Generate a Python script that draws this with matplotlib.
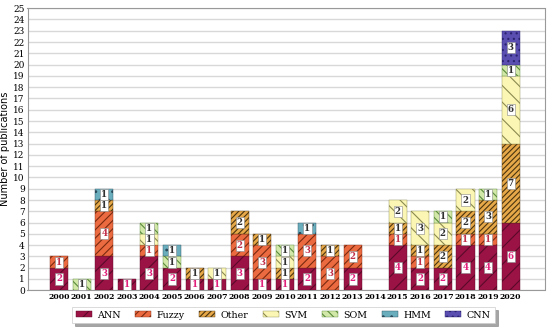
import numpy as np
import matplotlib
matplotlib.use('Agg')
import matplotlib.pyplot as plt

years = list(range(2000, 2021))
ann = [2, 0, 3, 1, 3, 2, 1, 1, 3, 1, 1, 2, 0, 2, 0, 4, 2, 2, 4, 4, 6]
fuzzy = [1, 0, 4, 0, 1, 0, 0, 0, 2, 3, 0, 3, 3, 2, 0, 1, 1, 0, 1, 1, 0]
other = [0, 0, 1, 0, 0, 0, 1, 0, 2, 1, 1, 0, 1, 0, 0, 1, 1, 2, 2, 3, 7]
svm = [0, 0, 0, 0, 1, 0, 0, 1, 0, 0, 1, 0, 0, 0, 0, 2, 3, 2, 2, 0, 6]
som = [0, 1, 0, 0, 1, 1, 0, 0, 0, 0, 1, 0, 0, 0, 0, 0, 0, 1, 0, 1, 1]
hmm = [0, 0, 1, 0, 0, 1, 0, 0, 0, 0, 0, 1, 0, 0, 0, 0, 0, 0, 0, 0, 0]
cnn = [0, 0, 0, 0, 0, 0, 0, 0, 0, 0, 0, 0, 0, 0, 0, 0, 0, 0, 0, 0, 3]

series = [
    ('ANN', ann, '#9b1245', '//', '#5a0a28', '#e0207a'),
    ('Fuzzy', fuzzy, '#ec6a40', '////', '#7a2a10', '#c0304a'),
    ('Other', other, '#e6a848', '//////', '#4a3410', '#303030'),
    ('SVM', svm, '#fbf6b4', '\\\\', '#8a8a50', '#303030'),
    ('SOM', som, '#d2e8a8', '\\\\\\\\', '#5a8a3a', '#303030'),
    ('HMM', hmm, '#6aaebe', '..', '#2a4a5a', '#303030'),
    ('CNN', cnn, '#5a4eb0', '...', '#2a2470', '#303030'),
]

plt.rcParams['hatch.linewidth'] = 0.8
fig, ax = plt.subplots(figsize=(5.5, 3.28), dpi=100)
fig.subplots_adjust(left=0.05, right=0.99, top=0.975, bottom=0.115)

x = np.array(years)
bottom = np.zeros(len(years))
handles = []
for name, vals, color, hatch, hcol, tcol in series:
    vals = np.array(vals)
    bars = ax.bar(x, vals, width=0.8, bottom=bottom, color=color, hatch=hatch,
                  edgecolor=hcol, linewidth=0.3, label=name, zorder=3)
    for b, v in zip(bars, vals):
        b._hatch_color = matplotlib.colors.to_rgba(hcol)
        if v == 0:
            b.set_linewidth(0)
    for xi, v, b0 in zip(x, vals, bottom):
        if v > 0:
            ax.text(xi, b0 + v / 2, str(v), ha='center', va='center',
                    fontsize=6.3, fontweight='bold', color=tcol, family='DejaVu Serif',
                    zorder=5, bbox=dict(boxstyle='square,pad=0.12', fc='white',
                                        ec='#888888', lw=0.4))
    handles.append(plt.Rectangle((0, 0), 1, 1, facecolor=color, hatch=hatch,
                                 edgecolor=hcol, linewidth=0.3))
    handles[-1]._hatch_color = matplotlib.colors.to_rgba(hcol)
    bottom += vals

ax.set_xlim(1998.6, 2021.5)
ax.set_ylim(0, 25)
ax.set_xticks(years)
ax.set_xticklabels([str(y) for y in years], fontsize=5.6, family='DejaVu Serif',
                   fontweight='bold')
ax.set_yticks(range(0, 26))
ax.tick_params(axis='y', labelsize=6.5, length=0, pad=2)
ax.tick_params(axis='x', length=0, pad=2)
for lab in ax.get_yticklabels():
    lab.set_family('DejaVu Serif')
ax.set_ylabel('Number of publications', fontsize=7, labelpad=2)
ax.grid(axis='y', color='#d8d8d8', linewidth=1.0, zorder=0)
for s in ax.spines.values():
    s.set_color('#999999')
    s.set_linewidth(0.8)

leg = fig.legend(handles=handles, labels=[s[0] for s in series],
                 loc='lower center', ncol=7,
                 bbox_to_anchor=(0.515, 0.0), frameon=True, shadow=True,
                 fancybox=False, handlelength=1.7, handleheight=0.55,
                 columnspacing=1.5, handletextpad=0.6,
                 prop={'family': 'DejaVu Serif', 'size': 6.8})
leg.get_frame().set_linewidth(0.5)

fig.savefig('out.png', dpi=100)
